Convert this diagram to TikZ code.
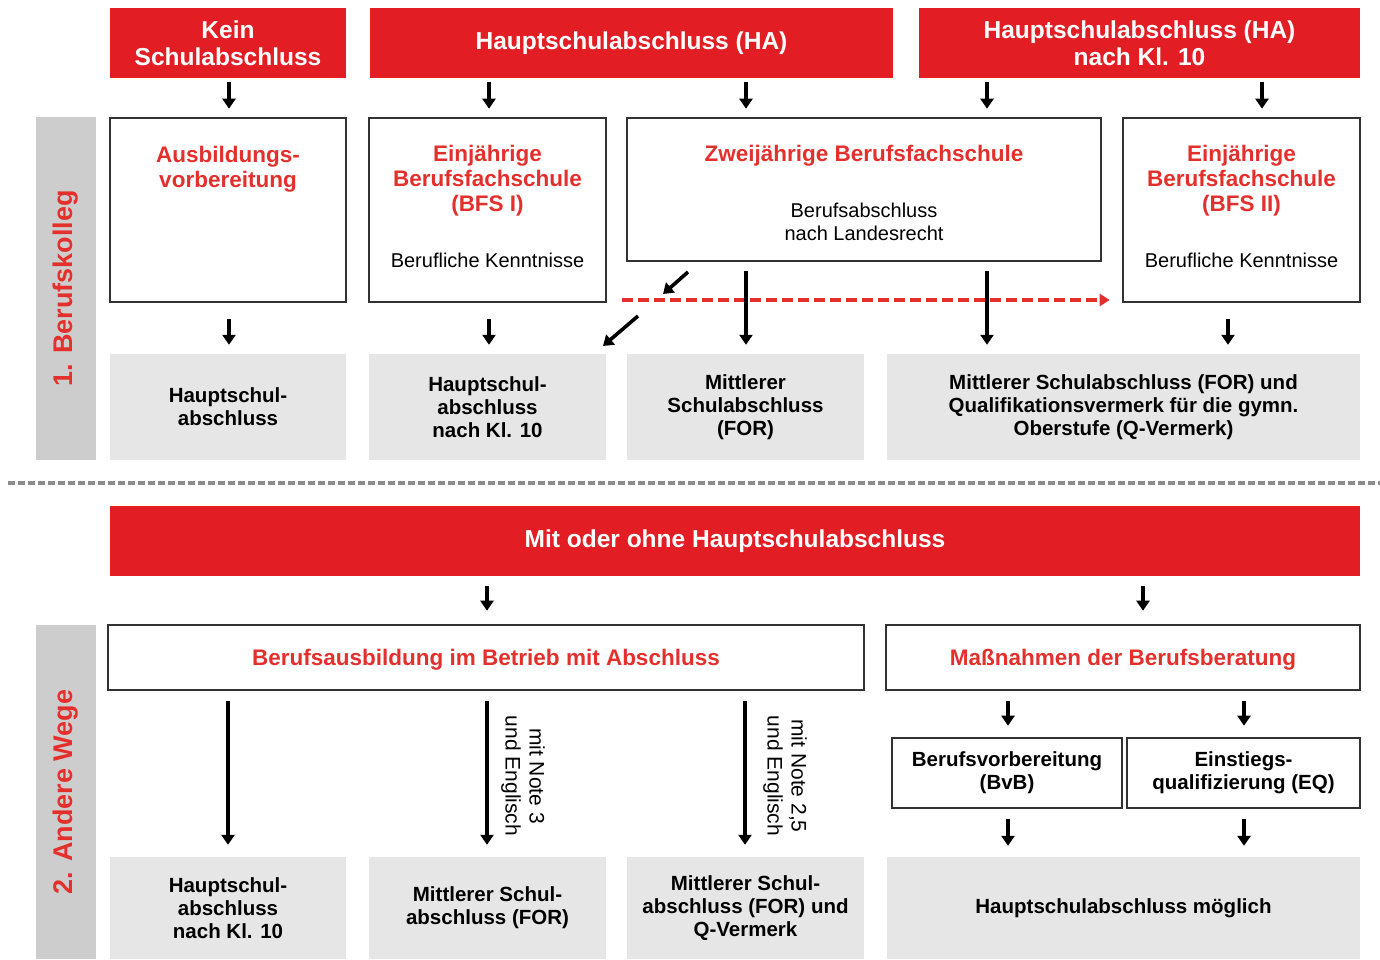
\documentclass[tikz,border=0pt]{standalone}
\usepackage{fontspec}
\setmainfont{Liberation Sans}
\usetikzlibrary{arrows.meta}
\definecolor{hdr}{RGB}{226,30,36}
\definecolor{ttl}{RGB}{228,48,44}
\definecolor{gbox}{RGB}{230,230,230}
\definecolor{sbar}{RGB}{205,205,205}
\definecolor{bord}{RGB}{50,50,50}
\begin{document}
\begin{tikzpicture}[x=1pt,y=-1pt,
  hbox/.style={fill=hdr,draw=none,inner sep=0pt,text=white,align=center,
    font=\fontsize{24.5}{27}\selectfont\bfseries},
  wbox/.style={draw=bord,line width=2.6pt,fill=white,inner sep=0pt},
  gbx/.style={fill=gbox,draw=none,inner sep=0pt,align=center,
    font=\fontsize{20.5}{23}\selectfont\bfseries},
  sidebar/.style={fill=sbar,draw=none,inner sep=0pt},
  sidetxt/.style={rotate=90,text=ttl,font=\fontsize{27}{30}\selectfont\bfseries},
  rtitle/.style={text=ttl,align=center,inner sep=0pt,font=\fontsize{22.5}{25}\selectfont\bfseries},
  plain/.style={align=center,inner sep=0pt,font=\fontsize{20}{23}\selectfont},
  bplain/.style={align=center,inner sep=0pt,font=\fontsize{20.5}{23}\selectfont\bfseries},
  arr/.style={-{Triangle[width=13pt,length=10pt]},line width=3.6pt,black},
  rdash/.style={-{Triangle[width=12pt,length=10pt]},line width=3.4pt,draw=ttl,dash pattern=on 11pt off 5pt},
  sep/.style={line width=3.6pt,draw=black!45,dash pattern=on 7pt off 3pt}
]
\useasboundingbox (0,0) rectangle (1380,959);

% headers
\node[hbox,minimum width=236,minimum height=70] (h1) at (228,43) {Kein\\Schulabschluss};
\node[hbox,minimum width=523,minimum height=70] (h2) at (631.5,43) {Hauptschulabschluss (HA)};
\node[hbox,minimum width=441,minimum height=70] (h3) at (1139.5,43) {Hauptschulabschluss (HA)\\nach Kl. 10};

% side bars
\node[sidebar,minimum width=60,minimum height=343] (s1) at (66,288.5) {};
\node[sidetxt] (s1t) at (66,288) {1. Berufskolleg};
\node[sidebar,minimum width=60,minimum height=334] (s2) at (66,792) {};
\node[sidetxt] (s2t) at (66,792) {2. Andere Wege};

% white boxes row 1
\node[wbox,minimum width=236,minimum height=184] (w1) at (228,210) {};
\node[wbox,minimum width=237,minimum height=184] (w2) at (487.5,210) {};
\node[wbox,minimum width=474,minimum height=143] (w3) at (864,189.5) {};
\node[wbox,minimum width=237,minimum height=184] (w4) at (1241.5,210) {};

\node[rtitle] (w1t) at (228,169) {Ausbildungs-\\vorbereitung};
\node[rtitle] (w2t) at (487.5,181) {Einjährige\\Berufsfachschule\\(BFS I)};
\node[plain] (w2s) at (487.5,260) {Berufliche Kenntnisse};
\node[rtitle] (w3t) at (864,156) {Zweijährige Berufsfachschule};
\node[plain] (w3s) at (864,222) {Berufsabschluss\\nach Landesrecht};
\node[rtitle] (w4t) at (1241.5,181) {Einjährige\\Berufsfachschule\\(BFS II)};
\node[plain] (w4s) at (1241.5,260) {Berufliche Kenntnisse};

% gray row 1
\node[gbx,minimum width=236,minimum height=106] (g1) at (228,407) {Hauptschul-\\abschluss};
\node[gbx,minimum width=237,minimum height=106] (g2) at (487.5,407) {Hauptschul-\\abschluss\\nach Kl. 10};
\node[gbx,minimum width=237,minimum height=106] (g3) at (745.5,407) {Mittlerer\\Schulabschluss\\(FOR)};
\node[gbx,minimum width=473,minimum height=106] (g4) at (1123.5,407) {Mittlerer Schulabschluss (FOR) und\\Qualifikationsvermerk für die gymn.\\Oberstufe (Q-Vermerk)};

% x positions
\coordinate (x229) at (229,0);
\coordinate (x489) at (489,0);
\coordinate (x746) at (746,0);
\coordinate (x987) at (987,0);
\coordinate (x1262) at (1262,0);
\coordinate (x1228) at (1228,0);

% header arrows
\draw[arr,shorten <=4pt,shorten >=8pt] (h1.south -| x229) -- (w1.north -| x229);
\draw[arr,shorten <=4pt,shorten >=8pt] (h2.south -| x489) -- (w2.north -| x489);
\draw[arr,shorten <=4pt,shorten >=8pt] (h2.south -| x746) -- (w3.north -| x746);
\draw[arr,shorten <=4pt,shorten >=8pt] (h3.south -| x987) -- (w3.north -| x987);
\draw[arr,shorten <=4pt,shorten >=8pt] (h3.south -| x1262) -- (w4.north -| x1262);

% red dashed arrow
\coordinate (dashL) at (622,300);
\draw[rdash,shorten >=12pt] (dashL) -- (dashL -| w4.west);

% row 2 arrows
\draw[arr,shorten <=16pt,shorten >=9pt] (w1.south -| x229) -- (g1.north -| x229);
\draw[arr,shorten <=16pt,shorten >=9pt] (w2.south -| x489) -- (g2.north -| x489);
\draw[arr,shorten <=9pt,shorten >=9pt] (w3.south -| x746) -- (g3.north -| x746);
\draw[arr,shorten <=9pt,shorten >=9pt] (w3.south -| x987) -- (g4.north -| x987);
\draw[arr,shorten <=16pt,shorten >=9pt] (w4.south -| x1228) -- (g4.north -| x1228);
\coordinate (d1a) at (688,272);
\coordinate (d1b) at (663,294);
\coordinate (d2a) at (638,316);
\coordinate (d2b) at (603,346);
\draw[arr] (d1a) -- (d1b);
\draw[arr] (d2a) -- (d2b);

% separator
\coordinate (sepL) at (8,483);
\coordinate (sepR) at (1380,483);
\draw[sep] (sepL) -- (sepR);

% section 2
\node[hbox,minimum width=1250,minimum height=70] (r) at (735,541) {Mit oder ohne Hauptschulabschluss};
\node[wbox,minimum width=756,minimum height=65] (b1) at (486,657.5) {};
\node[rtitle] (b1t) at (486,660) {Berufsausbildung im Betrieb mit Abschluss};
\node[wbox,minimum width=474,minimum height=65] (b2) at (1123,657.5) {};
\node[rtitle] (b2t) at (1123,660) {Maßnahmen der Berufsberatung};

\node[wbox,minimum width=230,minimum height=70] (c1) at (1007,773) {};
\node[bplain] (c1t) at (1007,773) {Berufsvorbereitung\\(BvB)};
\node[wbox,minimum width=233,minimum height=70] (c2) at (1243.5,773) {};
\node[bplain] (c2t) at (1243.5,773) {Einstiegs-\\qualifizierung (EQ)};

\node[gbx,minimum width=236,minimum height=102] (e1) at (228,908) {Hauptschul-\\abschluss\\nach Kl. 10};
\node[gbx,minimum width=237,minimum height=102] (e2) at (487.5,908) {Mittlerer Schul-\\abschluss (FOR)};
\node[gbx,minimum width=237,minimum height=102] (e3) at (745.5,908) {Mittlerer Schul-\\abschluss (FOR) und\\Q-Vermerk};
\node[gbx,minimum width=473,minimum height=102] (e4) at (1123.5,908) {Hauptschulabschluss möglich};

\coordinate (x487) at (487,0);
\coordinate (x1143) at (1143,0);
\coordinate (x228) at (228,0);
\coordinate (x745) at (745,0);
\coordinate (x1008) at (1008,0);
\coordinate (x1244) at (1244,0);

\draw[arr,shorten <=10pt,shorten >=13pt] (r.south -| x487) -- (b1.north -| x487);
\draw[arr,shorten <=10pt,shorten >=13pt] (r.south -| x1143) -- (b2.north -| x1143);

\draw[arr,shorten <=10pt,shorten >=12pt] (b1.south -| x228) -- (e1.north -| x228);
\draw[arr,shorten <=10pt,shorten >=12pt] (b1.south -| x487) -- (e2.north -| x487);
\draw[arr,shorten <=10pt,shorten >=12pt] (b1.south -| x745) -- (e3.north -| x745);

\draw[arr,shorten <=10pt,shorten >=11pt] (b2.south -| x1008) -- (c1.north -| x1008);
\draw[arr,shorten <=10pt,shorten >=11pt] (b2.south -| x1244) -- (c2.north -| x1244);
\draw[arr,shorten <=10pt,shorten >=11pt] (c1.south -| x1008) -- (e4.north -| x1008);
\draw[arr,shorten <=10pt,shorten >=11pt] (c2.south -| x1244) -- (e4.north -| x1244);

\node[plain,rotate=-90,font=\fontsize{21}{24}\selectfont] (l1) at (523,776) {mit Note 3\\und Englisch};
\node[plain,rotate=-90,font=\fontsize{21}{24}\selectfont] (l2) at (785,776) {mit Note 2,5\\und Englisch};
\end{tikzpicture}
\end{document}
